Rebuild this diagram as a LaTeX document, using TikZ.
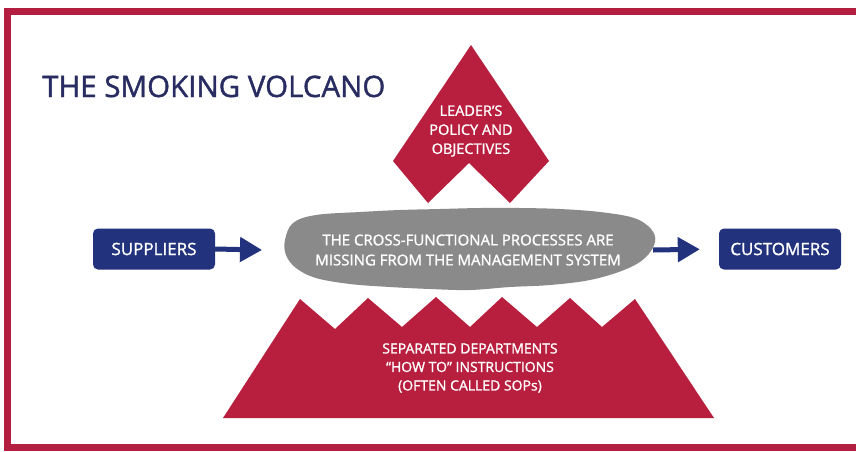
\documentclass[tikz,border=0pt]{standalone}
\usepackage{fontspec}
\setmainfont{Open Sans}[BoldFont={Open Sans}, BoldFeatures={FakeBold=1.3}]
\usetikzlibrary{arrows.meta,positioning}
\definecolor{volcred}{RGB}{184,30,62}
\definecolor{framered}{RGB}{180,30,64}
\definecolor{navy}{RGB}{34,50,124}
\definecolor{titlenavy}{RGB}{40,44,96}
\definecolor{smoke}{RGB}{138,138,138}

\begin{document}
\begin{tikzpicture}[x=1pt,y=-1pt,
node distance=0.2cm,
party/.style={rectangle, fill=navy, rounded corners=5pt, minimum width=122pt, minimum height=41pt, align=center, text=white, font=\bfseries\fontsize{17}{19}\selectfont},
flow/.style={draw=navy, line width=5pt, -{Triangle[length=22pt,width=24pt]}},
ontext/.style={text=white, align=center, inner sep=0pt}
]
\clip (0,0) rectangle (856,451);
\fill[white] (0,0) rectangle (856,451);
% frame
\draw[framered, line width=7pt] (7.5,11.5) rectangle (900,447.5);

\node[anchor=base west, text=titlenavy, font=\bfseries\fontsize{29.5}{32}\selectfont, inner sep=0pt] (title) at (42,97) {THE SMOKING VOLCANO};

% leader's policy
\fill[volcred] (471,45) -- (393,161) -- (428,203) -- (469,163) -- (510,203) -- (549,161) -- cycle;
\node[ontext, font=\bfseries\fontsize{14.5}{19}\selectfont] (policy) at (471,131) {LEADER'S\\POLICY AND\\OBJECTIVES};

% smoke cloud
\fill[smoke] plot[smooth cycle, tension=0.6] coordinates {
(285,240) (293,223) (316,215) (360,212) (400,210) (440,209) (480,208) (520,208)
(560,209) (600,212) (634,218) (651,229) (655,242) (645,258) (624,270) (590,280)
(550,285) (510,287) (470,290) (430,289) (390,287) (350,284) (316,278) (296,268) (286,255)};
\node[ontext, font=\bfseries\fontsize{15}{20}\selectfont] (cloud) at (468,250) {THE CROSS-FUNCTIONAL PROCESSES ARE\\MISSING FROM THE MANAGEMENT SYSTEM};
\coordinate (cloudin) at (262,250);
\coordinate (cloudout) at (653,250);

% departments
\fill[volcred] (223,418) -- (300,299) -- (335,329) -- (368,298) -- (402,327) -- (436,297)
-- (470,327) -- (502,297) -- (537,327) -- (570,298) -- (602,327) -- (635,299) -- (714,418) -- cycle;
\node[ontext, font=\bfseries\fontsize{14}{18.5}\selectfont] (depts) at (470,368) {SEPARATED DEPARTMENTS\\``HOW TO'' INSTRUCTIONS\\(OFTEN CALLED SOPs)};

\node[party] (sup) at (154,249) {SUPPLIERS};
\node[party] (cus) at (780,249) {CUSTOMERS};

\draw[flow] (sup.east) -- (cloudin);
\draw[flow, shorten >=19pt] (cloudout) -- (cus.west);
\end{tikzpicture}
\end{document}
